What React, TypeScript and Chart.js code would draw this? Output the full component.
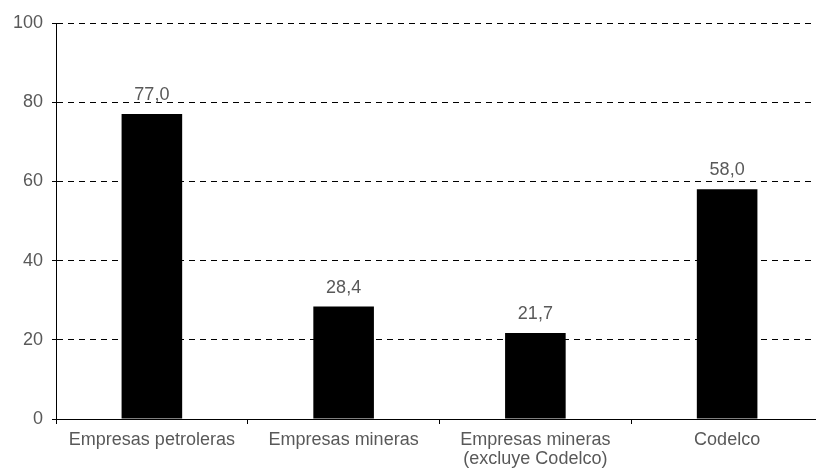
import React, { useEffect, useRef } from "react";
import { Chart, registerables } from "chart.js";

Chart.register(...registerables);

const categories: (string | string[])[] = [
  "Empresas petroleras",
  "Empresas mineras",
  ["Empresas mineras", "(excluye Codelco)"],
  "Codelco",
];
const values: number[] = [77.0, 28.4, 21.7, 58.0];
const yTicks = { min: 0, max: 100, step: 20 };

const FONT = '"Liberation Sans", Arial, sans-serif';
const TEXT = "#595959";

const valueLabels = {
  id: "valueLabels",
  afterDatasetsDraw(chart: any) {
    const ctx = chart.ctx;
    const meta = chart.getDatasetMeta(0);
    ctx.save();
    ctx.font = `18px ${FONT}`;
    ctx.fillStyle = TEXT;
    ctx.textAlign = "center";
    ctx.textBaseline = "alphabetic";
    meta.data.forEach((bar: any, i: number) => {
      const txt = values[i].toFixed(1).replace(".", ",");
      ctx.fillText(txt, bar.x, bar.y - 14);
    });
    ctx.restore();
  },
};

export default function App() {
  const ref = useRef<HTMLCanvasElement>(null);
  useEffect(() => {
    document.body.style.margin = "0";
    document.body.style.overflow = "hidden";
    document.documentElement.style.overflow = "hidden";
    const chart = new Chart(ref.current!, {
      type: "bar",
      data: {
        labels: categories,
        datasets: [
          {
            data: values,
            backgroundColor: "#000000",
            borderWidth: 0,
            barPercentage: 0.316,
            categoryPercentage: 1,
          },
        ],
      },
      options: {
        responsive: false,
        animation: false,
        devicePixelRatio: 1,
        layout: { padding: { top: 23, right: 7, left: 0, bottom: 0 } },
        plugins: {
          legend: { display: false },
          tooltip: { enabled: false },
        },
        scales: {
          x: {
            offset: true,
            grid: {
              offset: true,
              drawOnChartArea: false,
              drawTicks: true,
              tickLength: 5,
              color: "#000000",
            },
            border: { display: true, color: "#000000", width: 1 },
            ticks: {
              color: TEXT,
              font: { family: FONT, size: 18, lineHeight: 1.07 },
              padding: 6,
              maxRotation: 0,
              autoSkip: false,
            },
            afterFit: (scale: any) => {
              scale.height = 54;
            },
          },
          y: {
            min: yTicks.min,
            max: yTicks.max,
            ticks: {
              stepSize: yTicks.step,
              color: TEXT,
              font: { family: FONT, size: 18 },
              padding: 9,
            },
            grid: {
              color: "#000000",
              lineWidth: 1,
              tickLength: 4,
              tickBorderDash: [],
            },
            border: { display: true, color: "#000000", width: 1, dash: [6, 5] },
            afterFit: (scale: any) => {
              scale.width = 56;
            },
          },
        },
      },
      plugins: [valueLabels],
    });
    return () => chart.destroy();
  }, []);
  return (
    <div style={{ position: "fixed", left: 0, top: 0, width: 830, height: 473 }}>
      <canvas ref={ref} width={830} height={473} />
    </div>
  );
}
